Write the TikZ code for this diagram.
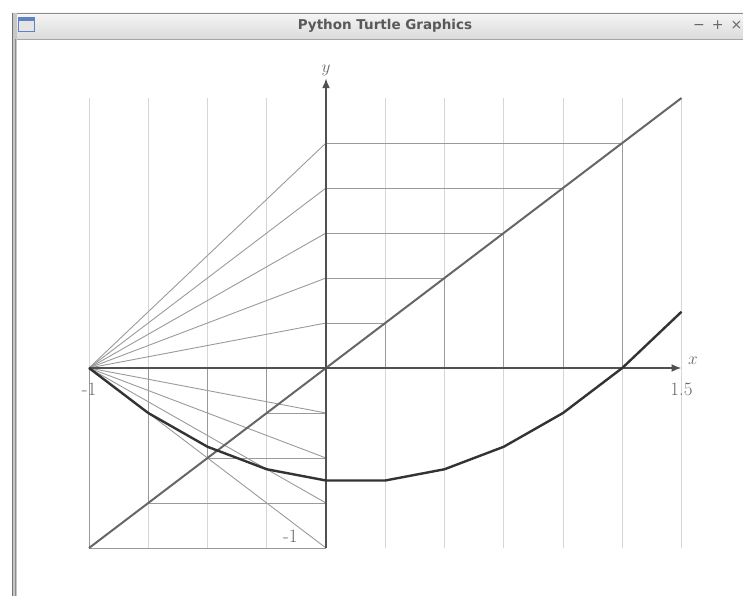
\documentclass[tikz,border=0pt]{standalone}
\usepackage{fontspec}
\newfontfamily\barfont{DejaVu Sans}
\usetikzlibrary{arrows.meta,positioning}
\definecolor{gridgray}{HTML}{D6D6D6}
\definecolor{auxgray}{HTML}{9A9A9A}
\definecolor{axisgray}{HTML}{505050}
\definecolor{labelgray}{HTML}{666666}
\definecolor{iconblue}{HTML}{5E82C4}

\begin{document}
\begin{tikzpicture}[x=1pt,y=-1pt,
  grid/.style={gridgray,line width=1pt},
  aux/.style={auxgray,line width=0.9pt},
  diag/.style={black!60,line width=2pt},
  axis/.style={axisgray,line width=1.8pt,-{Latex[length=10pt,width=8pt]}},
  curve/.style={black!80,line width=2.4pt,line join=round},
  lbl/.style={labelgray,font=\fontsize{19}{21}\selectfont}]
\useasboundingbox (0,0) rectangle (743,596);
% window frame
\shade[top color=black!4,bottom color=black!14] (12,13) rectangle (743,39);
\draw[black!45,line width=1pt] (12,13.5) -- (743,13.5);
\draw[black!35,line width=1pt] (15,39.5) -- (743,39.5);
\fill[black!22] (12,13) rectangle (17,596);
\draw[black!55,line width=1pt] (12.5,13) -- (12.5,596);
\draw[black!45,line width=1pt] (15.5,39) -- (15.5,596);
\fill[black!10,draw=iconblue] (18.5,17.5) rectangle (34.5,31.5);
\fill[iconblue] (18,17) rectangle (35,21);
\node[black!65,font=\barfont\bfseries\fontsize{13.5}{15}\selectfont] (title) at (385,26) {Python Turtle Graphics};
\node[black!60,font=\barfont\fontsize{14}{15}\selectfont,anchor=east,inner sep=0.5pt] (btns) at (743,25) {−\,\,\,+\,\,\,×};

\begin{scope}[shift={(326pt,-368pt)},x=237pt,y=180pt]
\coordinate (O) at (0,0);
\coordinate (A) at (-1,0);
\coordinate (xend) at (1.5,0);
\coordinate (ybot) at (0,-1);
\coordinate (ytop) at (0,1.61);
% grid
\foreach \i in {-1,-0.75,...,1.5}
  \draw[grid] (\i,-1) -- (\i,1.5);
% squares under the diagonal
\foreach \t in {-1,-0.75,-0.5,-0.25,0.25,0.5,0.75,1,1.25}
  \draw[aux] (0,\t) -- (\t,\t) -- (\t,0);
% fan of lines from (-1,0)
\foreach \t in {-1,-0.75,-0.5,-0.25,0.25,0.5,0.75,1,1.25}
  \draw[aux] (A) -- (0,\t);
\draw[diag] (-1,-1) -- (1.5,1.5);
\draw[axis] (A) -- (xend);
\draw[axis] (ybot) -- (ytop);
\draw[curve] plot[domain=-1:1.5,samples=11] (\x,{0.5*(\x+1)*(\x-1.25)});
\node[lbl,below=11pt] (xmin) at (A) {-1};
\node[lbl,below=11pt] (xmax) at (xend) {1.5};
\node[lbl,above right=0pt and 3pt] (xlab) at (xend) {$x$};
\node[lbl,above=-1pt] (ylab) at (ytop) {$y$};
\node[lbl] (ymin) at (-0.15,-0.935) {-1};
\end{scope}
\end{tikzpicture}
\end{document}
